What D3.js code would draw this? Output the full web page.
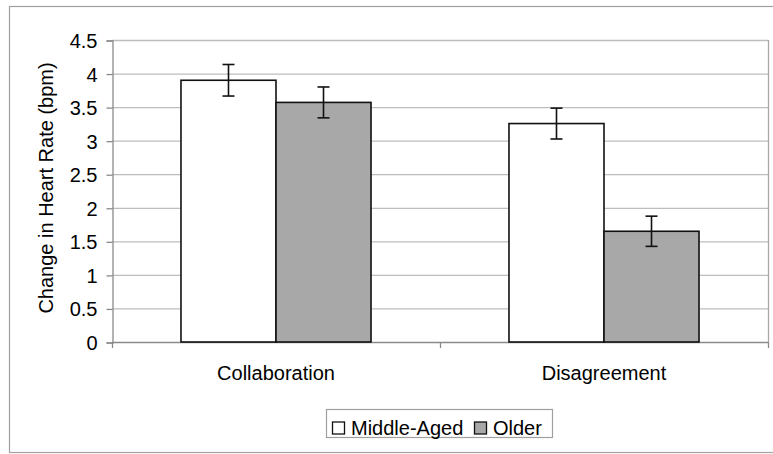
<!DOCTYPE html>
<html><head><meta charset="utf-8">
<script src="https://cdn.jsdelivr.net/npm/d3@7"></script>
<style>body{margin:0;background:#fff}svg{display:block}text{font-family:"Liberation Sans",Arial,sans-serif;fill:#000}</style>
</head><body><svg id="c" width="773" height="454"></svg>
<script>
const categories = ["Collaboration", "Disagreement"];
const seriesNames = ["Middle-Aged", "Older"];
const middleAged = [3.9, 3.255];
const older = [3.57, 1.65];
const middleAgedErr = [0.235, 0.23];
const olderErr = [0.23, 0.225];
const yTicks = [0, 0.5, 1, 1.5, 2, 2.5, 3, 3.5, 4, 4.5];
const fills = ["#ffffff", "#a8a8a8"];

const svg = d3.select("#c");
const m = {l: 112, r: 768, t: 40, b: 342};

// outer frame
svg.append("rect").attr("x", 9.5).attr("y", 6.5).attr("width", 800).attr("height", 446)
  .attr("fill", "#fff").attr("stroke", "#a0a0a0").attr("stroke-width", 1.2);

const x0 = d3.scaleBand().domain(categories).range([m.l, m.r]).paddingInner(0).paddingOuter(0);
const x1 = d3.scaleBand().domain(seriesNames).range([0, x0.bandwidth()]).paddingInner(0).paddingOuter(0.726);
const y = d3.scaleLinear().domain([0, 4.5]).range([m.b, m.t]);

// gridlines
svg.append("g").selectAll("line").data(yTicks.filter(d => d > 0)).join("line")
  .attr("x1", m.l).attr("x2", m.r).attr("y1", d => y(d) + 0.5).attr("y2", d => y(d) + 0.5)
  .attr("stroke", "#bdbdbd").attr("stroke-width", 1.3);
// right border of plot
svg.append("line").attr("x1", m.r + 0.5).attr("x2", m.r + 0.5).attr("y1", m.t).attr("y2", m.b)
  .attr("stroke", "#a8a8a8").attr("stroke-width", 1.3);

// y axis
const yAxis = d3.axisLeft(y).tickValues(yTicks).tickSize(6).tickPadding(9).tickFormat(d => String(d));
const gy = svg.append("g").attr("transform", `translate(${m.l + 0.5},0.5)`).call(yAxis);
gy.select(".domain").attr("stroke", "#8a8a8a").attr("stroke-width", 1.3);
gy.selectAll(".tick line").attr("stroke", "#8a8a8a").attr("stroke-width", 1.3);
gy.selectAll("text").attr("font-size", 20).attr("dy", "0.35em");

// x axis
const xTickPos = [m.l, m.l + x0.bandwidth(), m.r];
const gx = svg.append("g");
gx.append("line").attr("x1", m.l).attr("x2", m.r).attr("y1", m.b + 0.5).attr("y2", m.b + 0.5)
  .attr("stroke", "#8a8a8a").attr("stroke-width", 1.3);
gx.selectAll("line.t").data(xTickPos).join("line").attr("class", "t")
  .attr("x1", d => d + 0.5).attr("x2", d => d + 0.5).attr("y1", m.b).attr("y2", m.b + 6)
  .attr("stroke", "#8a8a8a").attr("stroke-width", 1.3);
gx.selectAll("text").data(categories).join("text")
  .attr("x", d => x0(d) + x0.bandwidth() / 2).attr("y", 380)
  .attr("text-anchor", "middle").attr("font-size", 20).text(d => d);

// bars
const rows = categories.map((c, i) => ({c, vals: [
  {s: seriesNames[0], v: middleAged[i], e: middleAgedErr[i], f: fills[0]},
  {s: seriesNames[1], v: older[i], e: olderErr[i], f: fills[1]}]}));
const grp = svg.append("g").selectAll("g").data(rows).join("g")
  .attr("transform", d => `translate(${x0(d.c)},0)`);
grp.selectAll("rect").data(d => d.vals).join("rect")
  .attr("x", d => x1(d.s)).attr("y", d => y(d.v))
  .attr("width", x1.bandwidth()).attr("height", d => y(0) - y(d.v))
  .attr("fill", d => d.f).attr("stroke", "#111").attr("stroke-width", 1.6);
// error bars
const eb = grp.selectAll("g.err").data(d => d.vals).join("g").attr("class", "err");
eb.append("line").attr("x1", d => x1(d.s) + x1.bandwidth() / 2).attr("x2", d => x1(d.s) + x1.bandwidth() / 2)
  .attr("y1", d => y(d.v + d.e)).attr("y2", d => y(d.v - d.e)).attr("stroke", "#111").attr("stroke-width", 1.6);
eb.selectAll("line.cap").data(d => [{s: d.s, val: d.v + d.e}, {s: d.s, val: d.v - d.e}]).join("line").attr("class", "cap")
  .attr("x1", d => x1(d.s) + x1.bandwidth() / 2 - 6).attr("x2", d => x1(d.s) + x1.bandwidth() / 2 + 6)
  .attr("y1", d => y(d.val)).attr("y2", d => y(d.val)).attr("stroke", "#111").attr("stroke-width", 1.6);

// legend
const lg = svg.append("g");
lg.append("rect").attr("x", 326.5).attr("y", 409.5).attr("width", 226).attr("height", 28)
  .attr("fill", "#fff").attr("stroke", "#a0a0a0").attr("stroke-width", 1.2);
const legendX = [332.5, 474.5];
seriesNames.forEach((s, i) => {
  lg.append("rect").attr("x", legendX[i]).attr("y", 422).attr("width", 12).attr("height", 12)
    .attr("fill", fills[i]).attr("stroke", "#111").attr("stroke-width", 1.3);
  lg.append("text").attr("x", legendX[i] + 18.5).attr("y", 435).attr("font-size", 20).text(s);
});

// y title
svg.append("text").attr("transform", "translate(53,188) rotate(-90)")
  .attr("text-anchor", "middle").attr("font-size", 20).text("Change in Heart Rate (bpm)");
</script></body></html>
